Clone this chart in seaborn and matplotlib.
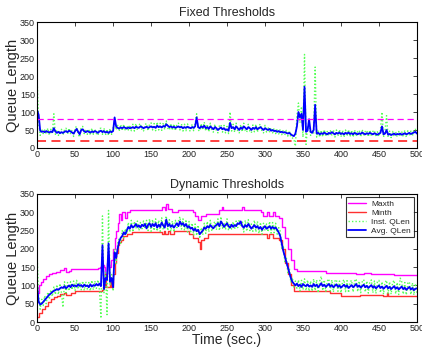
import numpy as np
import pandas as pd
import matplotlib
matplotlib.use("Agg")
import matplotlib.pyplot as plt
import seaborn as sns

# ----------------------------------------------------------------------
# DATA (read off the reference, sampled every 2 s from 0 to 500)
# ----------------------------------------------------------------------
t_grid = np.arange(0, 501, 2)

fixed_avg = [
    105, 92, 48, 45, 46, 44, 47, 45, 43, 46,
    44, 55, 46, 42, 45, 41, 44, 42, 45, 47,
    44, 48, 46, 43, 40, 47, 53, 45, 38, 50,
    52, 46, 44, 47, 45, 43, 46, 44, 47, 45,
    42, 46, 48, 44, 47, 43, 45, 42, 46, 44,
    47, 85, 60, 56, 54, 57, 55, 58, 56, 54,
    57, 55, 56, 58, 55, 59, 57, 56, 60, 58,
    55, 57, 59, 56, 58, 60, 57, 59, 56, 62,
    58, 60, 57, 61, 59, 66, 62, 58, 60, 57,
    59, 56, 58, 60, 57, 59, 55, 58, 56, 59,
    57, 55, 58, 56, 60, 85, 58, 55, 60, 57,
    62, 55, 58, 53, 60, 56, 52, 58, 55, 50,
    54, 57, 52, 55, 50, 52, 48, 70, 55, 58,
    52, 60, 55, 50, 57, 53, 60, 56, 52, 58,
    55, 50, 56, 53, 58, 52, 55, 58, 54, 50,
    55, 52, 50, 53, 48, 50, 47, 48, 45, 47,
    44, 45, 43, 44, 42, 40, 42, 38, 35, 33,
    40, 60, 100, 85, 95, 50, 170, 45, 48, 80,
    45, 42, 50, 120, 40, 42, 38, 41, 39, 43,
    40, 38, 42, 40, 44, 41, 38, 42, 40, 43,
    39, 41, 38, 42, 40, 43, 39, 41, 38, 42,
    40, 38, 41, 39, 43, 40, 38, 41, 39, 42,
    40, 38, 41, 39, 37, 40, 42, 60, 38, 40,
    50, 37, 39, 36, 38, 40, 37, 39, 38, 40,
    37, 39, 41, 38, 40, 42, 39, 41, 43, 45,
    40,
]

fixed_inst = [
    190, 70, 35, 52, 40, 50, 38, 55, 36, 52,
    40, 95, 38, 50, 35, 48, 52, 36, 50, 55,
    38, 55, 40, 50, 32, 56, 60, 38, 30, 58,
    60, 40, 52, 38, 53, 36, 55, 38, 52, 40,
    35, 54, 55, 38, 55, 36, 52, 35, 54, 38,
    55, 75, 50, 63, 47, 65, 48, 66, 49, 62,
    50, 64, 48, 66, 47, 68, 50, 64, 68, 50,
    47, 65, 68, 48, 66, 70, 50, 68, 48, 72,
    50, 69, 49, 70, 51, 75, 55, 50, 68, 49,
    67, 48, 66, 69, 50, 67, 47, 66, 48, 67,
    49, 47, 66, 48, 68, 95, 50, 47, 68, 50,
    72, 47, 66, 45, 69, 48, 44, 66, 47, 42,
    62, 65, 44, 63, 42, 60, 40, 100, 47, 66,
    44, 69, 47, 42, 65, 45, 69, 48, 44, 66,
    47, 42, 64, 45, 66, 44, 63, 66, 46, 42,
    63, 44, 58, 45, 56, 42, 55, 40, 53, 39,
    52, 37, 50, 36, 49, 33, 48, 30, 28, 25,
    5, 90, 125, 70, 115, 30, 260, 10, 60, 65,
    35, 50, 40, 225, 30, 50, 30, 49, 31, 51,
    32, 46, 34, 48, 36, 50, 30, 50, 33, 51,
    31, 49, 30, 50, 33, 51, 31, 49, 30, 50,
    32, 46, 49, 31, 51, 33, 46, 49, 31, 50,
    32, 46, 49, 31, 45, 32, 50, 100, 30, 48,
    90, 30, 47, 29, 46, 32, 45, 31, 46, 32,
    45, 31, 49, 30, 48, 34, 47, 33, 50, 52,
    35,
]

fixed_t_th = [0, 500]
fixed_maxth = [80, 80]
fixed_minth = [20, 20]

dyn_avg = [
    100, 55, 48, 50, 55, 60, 65, 70, 75, 78,
    82, 85, 87, 90, 88, 92, 95, 93, 98, 92,
    96, 100, 95, 102, 98, 100, 97, 103, 99, 101,
    96, 102, 98, 100, 95, 103, 97, 101, 99, 104,
    100, 105, 98, 210, 90, 120, 115, 215, 110, 120,
    95, 190, 175, 200, 220, 230, 235, 245, 240, 250,
    260, 255, 265, 258, 262, 268, 260, 264, 258, 266,
    262, 268, 256, 265, 270, 260, 268, 262, 270, 258,
    266, 260, 272, 264, 258, 280, 262, 268, 260, 265,
    258, 264, 270, 262, 275, 266, 270, 262, 268, 258,
    262, 255, 258, 250, 255, 248, 252, 240, 245, 250,
    258, 255, 262, 258, 265, 260, 256, 262, 265, 270,
    262, 275, 268, 260, 265, 270, 262, 258, 266, 260,
    265, 262, 270, 268, 275, 262, 258, 265, 260, 268,
    262, 255, 260, 265, 258, 262, 255, 260, 252, 258,
    262, 255, 258, 262, 255, 260, 256, 258, 252, 245,
    235, 215, 195, 180, 165, 150, 135, 120, 110, 105,
    100, 105, 98, 102, 96, 104, 100, 98, 103, 97,
    100, 96, 104, 98, 102, 95, 100, 106, 98, 102,
    96, 100, 104, 97, 101, 95, 99, 103, 96, 100,
    94, 98, 102, 96, 100, 93, 97, 101, 95, 99,
    104, 96, 100, 94, 98, 102, 95, 99, 93, 97,
    101, 94, 98, 92, 96, 100, 93, 97, 91, 95,
    99, 92, 96, 90, 94, 98, 91, 95, 89, 93,
    97, 90, 94, 88, 92, 96, 89, 93, 87, 91,
    92,
]

dyn_inst = [
    180, 70, 35, 62, 45, 72, 50, 82, 62, 88,
    70, 97, 75, 102, 75, 105, 80, 40, 110, 80,
    108, 85, 110, 88, 112, 86, 114, 90, 110, 88,
    112, 86, 110, 90, 108, 85, 114, 88, 112, 92,
    115, 88, 10, 290, 80, 135, 20, 305, 100, 130,
    85, 200, 160, 215, 230, 215, 250, 230, 255, 240,
    272, 245, 278, 246, 275, 255, 276, 250, 272, 255,
    276, 255, 278, 250, 282, 248, 280, 250, 282, 248,
    278, 248, 285, 252, 270, 290, 250, 280, 248, 276,
    246, 278, 258, 276, 288, 254, 282, 250, 280, 246,
    275, 243, 270, 238, 268, 236, 265, 228, 258, 238,
    270, 242, 275, 246, 278, 248, 268, 275, 252, 282,
    250, 288, 256, 272, 252, 282, 250, 270, 254, 274,
    253, 276, 258, 280, 262, 275, 246, 278, 248, 280,
    250, 268, 248, 278, 246, 275, 242, 272, 240, 270,
    250, 268, 246, 275, 243, 272, 244, 270, 240, 258,
    248, 200, 210, 165, 178, 135, 148, 108, 122, 95,
    112, 92, 115, 85, 114, 88, 118, 86, 115, 84,
    112, 84, 118, 86, 115, 80, 112, 125, 86, 115,
    84, 112, 118, 85, 115, 82, 112, 116, 84, 112,
    80, 110, 116, 83, 113, 80, 109, 114, 82, 112,
    118, 83, 112, 80, 110, 116, 82, 112, 79, 110,
    115, 80, 112, 78, 110, 114, 80, 110, 76, 108,
    114, 78, 110, 76, 108, 114, 77, 108, 75, 120,
    110, 76, 108, 74, 106, 110, 75, 107, 74, 105,
    80,
]

# threshold step changes (time, value)
maxth_t = [0, 2, 5, 8, 12, 16, 20, 25, 30, 35, 38, 42, 45, 80, 83, 86, 88, 90,
           92, 95, 97, 100, 102, 104, 106, 108, 110, 112, 116, 118, 122, 165,
           168, 170, 172, 178, 185, 205, 208, 212, 216, 222, 240, 243, 245,
           270, 272, 295, 298, 302, 305, 310, 313, 318, 322, 326, 330, 334,
           338, 342, 380, 420, 430, 440, 470, 500]
maxth_v = [80, 100, 110, 118, 125, 130, 135, 138, 143, 148, 138, 140, 145, 148,
           150, 155, 150, 130, 160, 150, 170, 200, 230, 250, 270, 295, 280,
           300, 285, 300, 305, 315, 305, 322, 310, 300, 305, 300, 290, 280,
           290, 295, 305, 315, 305, 315, 305, 300, 290, 300, 290, 300, 290,
           285, 260, 230, 200, 170, 145, 140, 135, 130, 135, 132, 128, 128]

minth_t = [0, 3, 6, 10, 14, 18, 22, 26, 30, 35, 38, 45, 50, 85, 87, 90, 91, 96,
           97, 100, 102, 104, 106, 108, 110, 113, 118, 125, 165, 167, 168,
           172, 175, 180, 200, 205, 212, 214, 216, 220, 225, 300, 302, 305,
           310, 318, 322, 326, 330, 334, 338, 385, 400, 425, 455, 460, 462,
           500]
minth_v = [15, 25, 35, 45, 55, 62, 68, 72, 76, 80, 75, 80, 85, 87, 95, 130, 95,
           120, 95, 130, 160, 190, 210, 220, 225, 235, 240, 245, 240, 250, 240,
           250, 240, 250, 240, 230, 220, 200, 225, 230, 240, 240, 230, 240,
           230, 225, 200, 160, 130, 100, 85, 80, 70, 75, 70, 78, 70, 70]

x_ticks = [0, 50, 100, 150, 200, 250, 300, 350, 400, 450, 500]
y_ticks = [0, 50, 100, 150, 200, 250, 300, 350]

# ----------------------------------------------------------------------
# STYLE
# ----------------------------------------------------------------------
sns.set_style("white")
plt.rcParams["font.family"] = ["Liberation Sans", "DejaVu Sans"]
plt.rcParams["xtick.direction"] = "in"
plt.rcParams["ytick.direction"] = "in"

C_MAX = "#ff00ff"
C_MIN = "#ff3030"
C_INST = "#55ff55"
C_AVG = "#0000ff"

fig = plt.figure(figsize=(4.22, 3.47), dpi=100)
ax1 = fig.add_axes([0.088, 0.5735, 0.900, 0.363])
ax2 = fig.add_axes([0.088, 0.072, 0.900, 0.369])


def style_axes(ax, title):
    ax.set_xlim(0, 500)
    ax.set_ylim(0, 350)
    ax.set_xticks(x_ticks)
    ax.set_yticks(y_ticks)
    ax.tick_params(labelsize=6.5, length=3, width=0.6, pad=1.5,
                   top=True, right=True, colors="#222222")
    for s in ax.spines.values():
        s.set_linewidth(0.8)
        s.set_color("black")
        s.set_visible(True)
    ax.set_title(title, fontsize=9, pad=4)
    ax.set_ylabel("Queue Length", fontsize=10.5, labelpad=0)


# ----------------------------------------------------------------------
# TOP: fixed thresholds
# ----------------------------------------------------------------------
sns.lineplot(x=t_grid, y=fixed_inst, ax=ax1, color=C_INST, lw=1.0,
             linestyle=(0, (1, 1.5)), estimator=None)
sns.lineplot(x=t_grid, y=fixed_avg, ax=ax1, color=C_AVG, lw=1.3,
             estimator=None)
sns.lineplot(x=fixed_t_th, y=fixed_maxth, ax=ax1, color=C_MAX, lw=0.9,
             linestyle=(0, (5, 3)), estimator=None)
sns.lineplot(x=fixed_t_th, y=fixed_minth, ax=ax1, color=C_MIN, lw=1.3,
             linestyle=(0, (5, 3)), estimator=None)
style_axes(ax1, "Fixed Thresholds")

# ----------------------------------------------------------------------
# BOTTOM: dynamic thresholds
# ----------------------------------------------------------------------
sns.lineplot(x=maxth_t, y=maxth_v, ax=ax2, color=C_MAX, lw=1.0,
             drawstyle="steps-post", estimator=None, label="Maxth")
sns.lineplot(x=minth_t, y=minth_v, ax=ax2, color=C_MIN, lw=1.0,
             drawstyle="steps-post", estimator=None, label="Minth")
sns.lineplot(x=t_grid, y=dyn_inst, ax=ax2, color=C_INST, lw=1.0,
             linestyle=(0, (1, 1.5)), estimator=None, label="Inst. QLen")
sns.lineplot(x=t_grid, y=dyn_avg, ax=ax2, color=C_AVG, lw=1.3,
             estimator=None, label="Avg. QLen")
style_axes(ax2, "Dynamic Thresholds")
ax2.set_xlabel("Time (sec.)", fontsize=10, labelpad=0)

leg = ax2.legend(loc="upper right", fontsize=6, frameon=True, fancybox=False,
                 borderpad=0.3, labelspacing=0.15, handlelength=2.2,
                 handletextpad=0.6, borderaxespad=0.4)
leg.get_frame().set_edgecolor("black")
leg.get_frame().set_linewidth(0.8)

plt.savefig("out.png", dpi=100)
plt.close()
